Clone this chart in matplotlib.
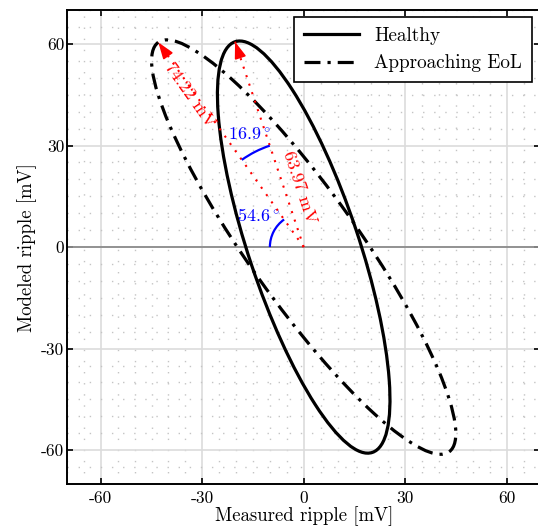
'''Lissajous ellipses: measured vs modeled ripple'''

import numpy as np
import matplotlib
matplotlib.use('Agg')
import matplotlib.pyplot as plt
from matplotlib.patches import Ellipse, Arc
from matplotlib.lines import Line2D
from matplotlib.ticker import MultipleLocator

plt.rcParams['font.family'] = 'cmr10'
plt.rcParams['mathtext.fontset'] = 'cm'
plt.rcParams['axes.unicode_minus'] = False
plt.rcParams['axes.formatter.use_mathtext'] = True

# ellipse data
labels = ['Healthy', 'Approaching EoL']
semi_major = [63.97, 74.22]        # mV
semi_minor = [16.3, 16.2]          # mV (estimated)
tilt_from_neg_x = [71.5, 54.6]     # deg, measured from the negative x axis
angle_labels = ['16.9', '54.6']
ticks = [-60, -30, 0, 30, 60]
tick_labels = ['-60', '-30', '0', '30', '60']

styles = ['-', (0, (5, 2.2, 1, 2.2))]

fig = plt.figure(figsize=(5.38, 5.28), dpi=100)
ax = fig.add_axes([0.1245, 0.0833, 0.88, 0.8975])

ax.set_xlim(-70, 70)
ax.set_ylim(-70, 70)
ax.set_xticks(ticks, tick_labels, fontsize=12.5)
ax.set_yticks(ticks, tick_labels, fontsize=12.5)
ax.xaxis.set_minor_locator(MultipleLocator(5))
ax.yaxis.set_minor_locator(MultipleLocator(5))
ax.tick_params(which='major', direction='in', length=4, width=1.2,
               top=True, right=True)
ax.tick_params(axis='x', pad=5)
ax.tick_params(axis='y', pad=2)
ax.tick_params(which='minor', length=0)
ax.grid(which='major', color='#dcdcdc', lw=1.2)
ax.grid(which='minor', color='#c4c4c4', lw=1.0, linestyle=(0, (1, 7)))
ax.set_axisbelow(True)
for s in ax.spines.values():
    s.set_linewidth(1.4)

ax.axhline(0, color='#8c8c8c', lw=1.3, zorder=1)

handles = []
for i in range(2):
    ang = 180 - tilt_from_neg_x[i]
    e = Ellipse((0, 0), 2*semi_major[i], 2*semi_minor[i], angle=ang,
                fill=False, ec='black', lw=2.3, linestyle=styles[i], zorder=3)
    ax.add_patch(e)
    handles.append(Line2D([], [], color='black', lw=2.3, linestyle=styles[i]))

    # semi-major axis arrow
    tip = semi_major[i]*np.array([np.cos(np.radians(ang)), np.sin(np.radians(ang))])
    ax.plot([0, tip[0]], [0, tip[1]], color='red', lw=1.5,
            linestyle=(0, (1, 3.3)), zorder=4)
    ax.annotate('', xy=tip, xytext=tip*0.97,
                arrowprops=dict(arrowstyle='-|>,head_length=1.0,head_width=0.35',
                                color='red', lw=1.2, shrinkA=0, shrinkB=0),
                zorder=5)

# length labels
ax.text(-1.2, 17.6, '63.97 mV', color='red', fontsize=13, rotation=-tilt_from_neg_x[0],
        ha='center', va='center', rotation_mode='anchor')
ax.text(-33.6, 44.8, '74.22 mV', color='red', fontsize=13, rotation=-tilt_from_neg_x[1],
        ha='center', va='center', rotation_mode='anchor')

# angle arcs
a_h = 180 - tilt_from_neg_x[0]
a_e = 180 - tilt_from_neg_x[1]
ax.add_patch(Arc((0, 0), 63.2, 63.2, theta1=a_h, theta2=a_e, color='blue', lw=1.6, zorder=4))
ax.add_patch(Arc((0, 0), 20, 20, theta1=a_e, theta2=180, color='blue', lw=1.6, zorder=4))
ax.text(-16.2, 33.2, angle_labels[0] + r'$^\circ$', color='blue', fontsize=13,
        ha='center', va='center')
ax.text(-13.5, 9.3, angle_labels[1] + r'$^\circ$', color='blue', fontsize=13,
        ha='center', va='center')

leg = ax.legend(handles, labels, loc='upper right', bbox_to_anchor=(0.982, 0.985),
                borderaxespad=0, fontsize=13.8, fancybox=False, framealpha=1,
                edgecolor='black', handlelength=2.9, labelspacing=0.5,
                borderpad=0.5)
leg.get_frame().set_linewidth(1.2)

ax.set_xlabel('Measured ripple [mV]', fontsize=13.5, labelpad=0)
ax.set_ylabel('Modeled ripple [mV]', fontsize=13.5, labelpad=3)

plt.savefig('out.png', dpi=100)
